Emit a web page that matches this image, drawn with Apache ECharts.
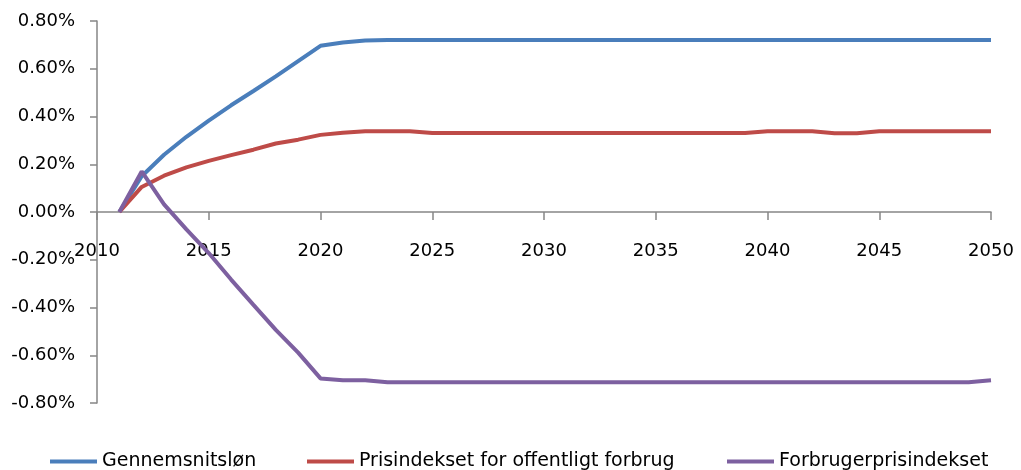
<!DOCTYPE html>
<html>
<head>
<meta charset="utf-8">
<script src="https://cdn.jsdelivr.net/npm/echarts@6/dist/echarts.min.js"></script>
<style>
  html, body { margin: 0; padding: 0; background: #fff; }
  #main { width: 1021px; height: 470px; }
</style>
</head>
<body>
<div id="main"></div>
<script>
// år 2011-2050
var years = [];
for (var y = 2011; y <= 2050; y++) years.push(y);

// afvigelse i pct.
var loen = [0, 0.15, 0.24, 0.315, 0.383, 0.447, 0.507, 0.568, 0.632, 0.696,
  0.71, 0.718, 0.72, 0.72, 0.72, 0.72, 0.72, 0.72, 0.72, 0.72,
  0.72, 0.72, 0.72, 0.72, 0.72, 0.72, 0.72, 0.72, 0.72, 0.72,
  0.72, 0.72, 0.72, 0.72, 0.72, 0.72, 0.72, 0.72, 0.72, 0.72];
var offentlig = [0, 0.105, 0.152, 0.187, 0.214, 0.238, 0.261, 0.287, 0.303, 0.323,
  0.332, 0.338, 0.338, 0.338, 0.331, 0.331, 0.331, 0.331, 0.331, 0.331,
  0.331, 0.331, 0.331, 0.331, 0.331, 0.331, 0.331, 0.331, 0.331, 0.338,
  0.338, 0.338, 0.33, 0.33, 0.338, 0.338, 0.338, 0.338, 0.338, 0.338];
var forbruger = [0, 0.17, 0.032, -0.073, -0.172, -0.283, -0.389, -0.494, -0.589, -0.697,
  -0.705, -0.705, -0.713, -0.713, -0.713, -0.713, -0.713, -0.713, -0.713, -0.713,
  -0.713, -0.713, -0.713, -0.713, -0.713, -0.713, -0.713, -0.713, -0.713, -0.713,
  -0.713, -0.713, -0.713, -0.713, -0.713, -0.713, -0.713, -0.713, -0.713, -0.705];

var names = ['Gennemsnitsløn', 'Prisindekset for offentligt forbrug', 'Forbrugerprisindekset'];
var colors = ['#4a7ebb', '#be4b48', '#7d60a0'];
var legendLeft = [45, 302, 722];

function pairs(vals) {
  return years.map(function (yr, i) { return [yr, vals[i]]; });
}

var myChart = echarts.init(document.getElementById('main'));

var option = {
  animation: false,
  textStyle: { fontFamily: 'DejaVu Sans' },
  grid: { left: 97, right: 30, top: 21, bottom: 67 },
  // tre legender, hver placeret for sig
  legend: names.map(function (n, i) {
    return {
      data: [n],
      left: legendLeft[i],
      top: 447,
      itemWidth: 47,
      itemHeight: 4,
      itemGap: 0,
      icon: 'rect',
      textStyle: { fontFamily: 'DejaVu Sans', fontSize: 19, color: '#000' }
    };
  }),
  xAxis: {
    type: 'value',
    min: 2010,
    max: 2050,
    interval: 5,
    splitLine: { show: false },
    axisLine: { onZero: true, lineStyle: { color: '#868686', width: 1.5 } },
    axisTick: { inside: false, length: 8, lineStyle: { color: '#868686', width: 1.5 } },
    // labels skal ligge lige under nul-linjen
    axisLabel: { margin: -161, fontSize: 18, color: '#000', formatter: function (v) { return String(v); } }
  },
  yAxis: {
    type: 'value',
    min: -0.8,
    max: 0.8,
    interval: 0.2,
    splitLine: { show: false },
    axisLine: { show: true, lineStyle: { color: '#868686', width: 1.5 } },
    axisTick: { show: true, length: 7, lineStyle: { color: '#868686', width: 1.5 } },
    axisLabel: { margin: 22, fontSize: 18, color: '#000', formatter: function (v) { return v.toFixed(2) + '%'; } }
  },
  series: [loen, offentlig, forbruger].map(function (vals, i) {
    return {
      name: names[i],
      type: 'line',
      data: pairs(vals),
      symbol: 'none',
      lineStyle: { width: 4, color: colors[i] },
      itemStyle: { color: colors[i] }
    };
  })
};

myChart.setOption(option);
</script>
</body>
</html>
